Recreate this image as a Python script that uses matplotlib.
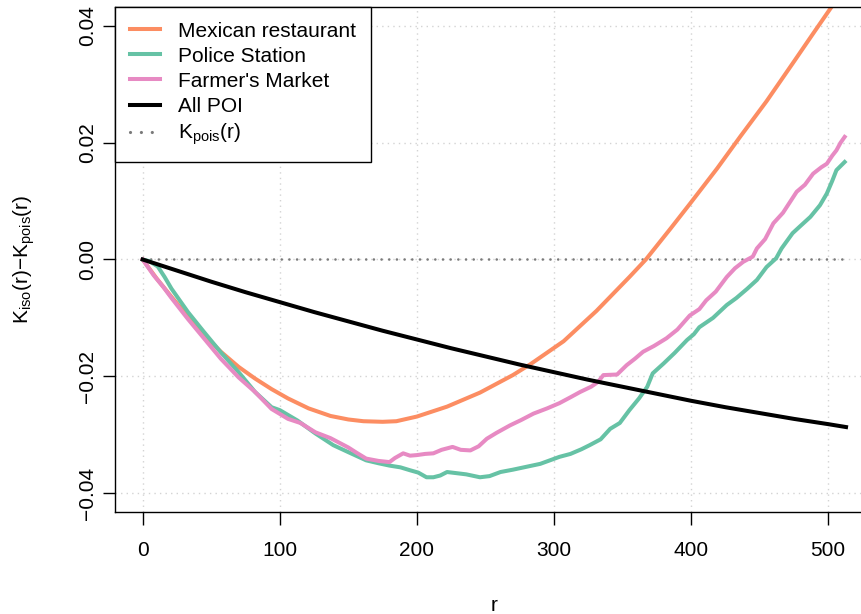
import matplotlib
matplotlib.use("Agg")
import matplotlib.pyplot as plt
from matplotlib.lines import Line2D

plt.rcParams['font.family'] = ['Liberation Sans', 'DejaVu Sans']
plt.rcParams['mathtext.fontset'] = 'custom'
plt.rcParams['mathtext.rm'] = 'Liberation Sans'
plt.rcParams['mathtext.it'] = 'Liberation Sans:italic'
plt.rcParams['mathtext.bf'] = 'Liberation Sans:bold'

# ---------------- data ----------------
r_mex = [0, 10, 21, 33, 45, 57, 70, 82, 94, 106, 121, 137, 150, 161, 175, 185, 200,
         222, 246, 270, 283, 307, 331, 355, 367, 385, 399, 419, 436, 455, 475, 489, 504, 513]
k_mex = [0, -0.0032, -0.0064, -0.0098, -0.0130, -0.0158, -0.0184, -0.0204, -0.0222,
         -0.0238, -0.0255, -0.0268, -0.0274, -0.0277, -0.0278, -0.0277, -0.0269,
         -0.0252, -0.0228, -0.0198, -0.0179, -0.0140, -0.0088, -0.0030, 0.0, 0.0053,
         0.0095, 0.0156, 0.0211, 0.0271, 0.0339, 0.0387, 0.0438, 0.0470]

r_police = [0, 5, 11, 16, 21, 33, 45, 57, 70, 82, 94, 100, 113, 126, 139, 150, 163, 172, 180,
            188, 195, 201, 207, 212, 217, 222, 229, 236, 246, 253, 261, 270, 280, 290, 297,
            304, 312, 320, 326, 334, 341, 348, 355, 362, 368, 372, 380, 388, 397, 402, 406,
            416, 426, 433, 441, 448, 455, 462, 466, 474, 480, 487, 494, 499, 503, 506, 512]
k_police = [0, -0.0003, -0.0012, -0.0030, -0.0050, -0.0090, -0.0125, -0.0159, -0.0193, -0.0227,
            -0.0253, -0.0258, -0.0276, -0.0298, -0.0318, -0.0330, -0.0344, -0.0349, -0.0353,
            -0.0356, -0.0361, -0.0365, -0.0373, -0.0373, -0.0370, -0.0364, -0.0366, -0.0368,
            -0.0373, -0.0371, -0.0364, -0.0360, -0.0355, -0.0350, -0.0344, -0.0338, -0.0333,
            -0.0325, -0.0318, -0.0308, -0.0290, -0.0280, -0.0258, -0.0238, -0.0218, -0.0195,
            -0.0178, -0.0160, -0.0138, -0.0128, -0.0116, -0.0100, -0.0078, -0.0066, -0.0050,
            -0.0035, -0.0013, 0.0002, 0.0019, 0.0045, 0.0058, 0.0073, 0.0093, 0.0113, 0.0135,
            0.0153, 0.0167]

r_farmer = [0, 8, 15, 21, 33, 45, 57, 70, 82, 94, 106, 115, 126, 137, 150, 156, 163, 172,
            180, 184, 190, 195, 200, 206, 212, 218, 226, 232, 239, 245, 251, 258, 268, 276,
            285, 295, 304, 312, 319, 327, 332, 336, 346, 353, 359, 365, 373, 382, 390, 399,
            406, 411, 418, 426, 432, 438, 445, 448, 454, 460, 467, 472, 477, 483, 489, 495,
            499, 503, 506, 509, 512]
k_farmer = [0, -0.0027, -0.0047, -0.0066, -0.0102, -0.0136, -0.0170, -0.0202, -0.0227,
            -0.0256, -0.0273, -0.0280, -0.0296, -0.0306, -0.0322, -0.0331, -0.0341, -0.0345,
            -0.0347, -0.0340, -0.0332, -0.0336, -0.0335, -0.0333, -0.0332, -0.0326, -0.0321,
            -0.0326, -0.0327, -0.0320, -0.0307, -0.0297, -0.0284, -0.0275, -0.0264, -0.0255,
            -0.0246, -0.0236, -0.0227, -0.0218, -0.0210, -0.0198, -0.0197, -0.0181, -0.0170,
            -0.0158, -0.0148, -0.0135, -0.0120, -0.0096, -0.0085, -0.0070, -0.0055, -0.0030,
            -0.0015, -0.0004, 0.0005, 0.0019, 0.0035, 0.0062, 0.0080, 0.0098, 0.0116, 0.0128,
            0.0147, 0.0158, 0.0164, 0.0178, 0.0187, 0.0200, 0.0210]

r_all = [0, 25, 50, 75, 100, 125, 150, 175, 200, 225, 250, 275, 300, 325, 350, 375, 400,
         425, 450, 475, 500, 513]
k_all = [0, -0.0019, -0.0038, -0.0056, -0.0073, -0.0090, -0.0106, -0.0122, -0.0137,
         -0.0152, -0.0166, -0.0180, -0.0193, -0.0206, -0.0218, -0.0230, -0.0242, -0.0253,
         -0.0263, -0.0273, -0.0282, -0.0287]

r_pois = [0, 513]
k_pois = [0, 0]

x_ticks = [0, 100, 200, 300, 400, 500]
y_ticks = [-0.04, -0.02, 0.00, 0.02, 0.04]
y_ticklabels = ["\u22120.04", "\u22120.02", "0.00", "0.02", "0.04"]

labels = ["Mexican restaurant", "Police Station", "Farmer's Market", "All POI",
          r"$\mathrm{K_{pois}}$(r)"]
colors = ["#FC8D62", "#66C2A5", "#E78AC3", "#000000", "#7a7a7a"]

# ---------------- figure ----------------
W, H = 862, 614
fig = plt.figure(figsize=(W / 100, H / 100), dpi=100)
left_px, right_px, top_px, bot_px = 115, 874, 6.7, 512.3
ax = fig.add_axes([left_px / W, 1 - bot_px / H, (right_px - left_px) / W, (bot_px - top_px) / H])

ax.set_xlim(-20.2, 533.4)
ax.set_ylim(-0.0433, 0.0433)

# grid
for xv in x_ticks:
    ax.axvline(xv, color="#d3d3d3", lw=1.0, ls=(0, (1, 3)), zorder=0)
for yv in y_ticks:
    ax.axhline(yv, color="#d3d3d3", lw=1.0, ls=(0, (1, 3)), zorder=0)

lw = 2.9
ax.plot(r_pois, k_pois, color=colors[4], lw=1.9, ls=(0, (0.01, 2.9)),
        dash_capstyle="round", solid_capstyle="round", zorder=1)
ax.plot(r_mex, k_mex, color=colors[0], lw=lw, zorder=2, solid_joinstyle="round")
ax.plot(r_police, k_police, color=colors[1], lw=lw, zorder=3, solid_joinstyle="round")
ax.plot(r_farmer, k_farmer, color=colors[2], lw=lw, zorder=4, solid_joinstyle="round")
ax.plot(r_all, k_all, color=colors[3], lw=lw, zorder=5, solid_joinstyle="round")

ax.set_xticks(x_ticks)
ax.set_xticklabels([str(v) for v in x_ticks])
ax.set_yticks(y_ticks)
ax.set_yticklabels(y_ticklabels, rotation=90, va="center")
ax.tick_params(axis="both", length=9, width=1.0, color="black", labelsize=15)
ax.tick_params(axis="x", pad=12)
ax.tick_params(axis="y", pad=4)
for s in ax.spines.values():
    s.set_linewidth(1.0)
    s.set_color("black")

ax.set_xlabel("r", fontsize=15)
ax.xaxis.set_label_coords(0.5, -0.165)
ax.set_ylabel("$\\mathrm{K_{iso}}$(r)\u2212$\\mathrm{K_{pois}}$(r)", fontsize=15)
ax.yaxis.set_label_coords(-0.103, 0.5)

handles = [Line2D([], [], color=colors[i], lw=lw) for i in range(4)]
handles.append(Line2D([], [], color=colors[4], lw=2.3, ls=(0, (0.01, 3.4)),
                      dash_capstyle="round"))
leg = ax.legend(handles, labels, loc="upper left", bbox_to_anchor=(0, 1),
                borderaxespad=0, fontsize=15, handlelength=1.45, handletextpad=0.87,
                borderpad=0.72, labelspacing=0.29,
                fancybox=False, framealpha=1, edgecolor="black")
leg.get_frame().set_linewidth(1.0)
leg.set_zorder(10)

fig.savefig("out.png", dpi=100)
